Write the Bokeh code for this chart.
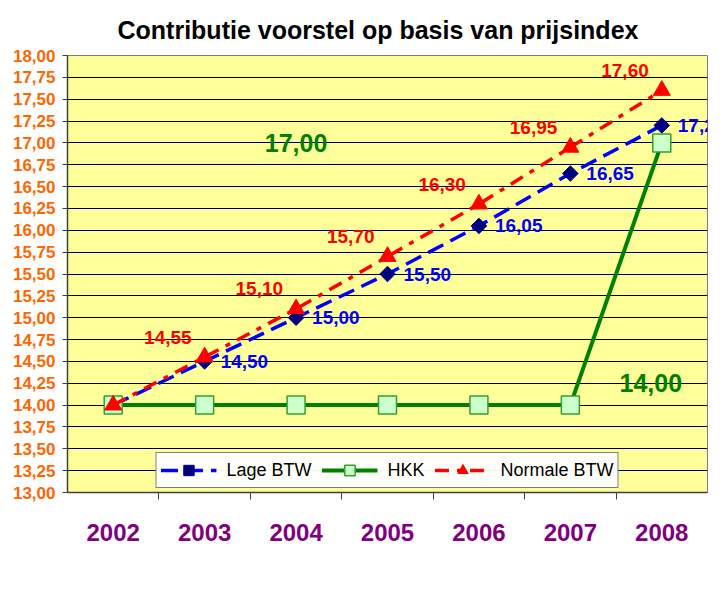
import math
from bokeh.plotting import figure
from bokeh.models import (FactorRange, Range1d, CategoricalAxis, FixedTicker,
                          CustomJSTickFormatter, ColumnDataSource, LabelSet, Legend, LegendItem)
from bokeh.core.properties import value
from bokeh.embed import file_html
from bokeh.resources import INLINE

# ---- data ----
years = ["2002", "2003", "2004", "2005", "2006", "2007", "2008"]
lage_btw = [14.00, 14.50, 15.00, 15.50, 16.05, 16.65, 17.20]
hkk = [14.00, 14.00, 14.00, 14.00, 14.00, 14.00, 17.00]
normale_btw = [14.00, 14.55, 15.10, 15.70, 16.30, 16.95, 17.60]
y_ticks = [13.00 + 0.25 * i for i in range(21)]
title_text = "Contributie voorstel op basis van prijsindex"
series_names = ["Lage BTW", "HKK", "Normale BTW"]


def fmt(v):
    return f"{v:.2f}".replace(".", ",")


FONT = "Liberation Sans"

src = ColumnDataSource(dict(year=years, lage=lage_btw, hkk=hkk, norm=normale_btw))

p = figure(frame_width=640, frame_height=437, x_range=FactorRange(*years), y_range=Range1d(13, 18),
           output_backend="svg", toolbar_location=None, x_axis_location=None,
           min_border_left=67, min_border_right=19, min_border_top=55, min_border_bottom=103,
           background_fill_color="#FFFF99", border_fill_color="white",
           outline_line_color="#808080", outline_line_width=1)

# title
p.title.text = title_text
p.title.text_font = FONT
p.title.text_font_size = "25px"
p.title.text_font_style = "bold"
p.title.text_color = "black"
p.title.align = "left"
p.title.offset = 50
p.title.standoff = 24

# y axis
ya = p.yaxis[0]
ya.ticker = FixedTicker(ticks=y_ticks)
ya.formatter = CustomJSTickFormatter(code="return tick.toFixed(2).replace('.', ',');")
ya.major_label_text_font = FONT
ya.major_label_text_font_size = "17px"
ya.major_label_text_font_style = "bold"
ya.major_label_text_color = "#FF6600"
ya.major_tick_out = 5
ya.major_tick_in = 0
ya.minor_tick_line_color = None
ya.major_label_standoff = 7
ya.axis_line_color = "#404040"
ya.axis_line_width = 1.5
ya.major_tick_line_color = "#404040"

p.xgrid.visible = False
p.ygrid.ticker = FixedTicker(ticks=y_ticks)
p.ygrid.grid_line_color = "black"
p.ygrid.grid_line_width = 1

# x axes: category-boundary ticks + category labels
boundaries = [f"b{i}" for i in range(len(years) + 1)]
p.extra_x_ranges = {"slots": FactorRange(factors=boundaries, range_padding=-0.5,
                                         range_padding_units="absolute")}
tick_axis = CategoricalAxis(x_range_name="slots",
                            major_label_text_font_size="1px", major_label_text_alpha=0,
                            major_label_standoff=0, major_tick_out=7, major_tick_in=0,
                            axis_line_color="#404040", axis_line_width=1.5,
                            major_tick_line_color="#404040")
p.add_layout(tick_axis, "below")
cat_axis = CategoricalAxis(axis_line_color=None, major_tick_line_color=None,
                           major_tick_out=0, major_tick_in=0, major_label_standoff=24,
                           major_label_text_font=FONT, major_label_text_font_size="24px",
                           major_label_text_font_style="bold", major_label_text_color="#800080")
p.add_layout(cat_axis, "below")

# series
l1 = p.line(x="year", y="lage", source=src, line_color="#0000FF", line_width=3.5, line_dash="17 8")
m1 = p.scatter(x="year", y="lage", source=src, marker="square", angle=math.pi / 4, size=11,
               fill_color="#000080", line_color="#000080")
l2 = p.line(x="year", y="hkk", source=src, line_color="#008000", line_width=4)
m2 = p.scatter(x="year", y="hkk", source=src, marker="square", size=18,
               fill_color="#CCFFCC", line_color="#33A033", line_width=1.5)
l3 = p.line(x="year", y="norm", source=src, line_color="#FF0000", line_width=3.5, line_dash="14 8 5 8")
m3 = p.scatter(x="year", y="norm", source=src, marker="triangle", size=17,
               fill_color="#FF0000", line_color="#FF0000")

# data labels
lab_lage = ColumnDataSource(dict(x=years[1:], y=lage_btw[1:], t=[fmt(v) for v in lage_btw[1:]]))
lab_norm = ColumnDataSource(dict(x=years[1:], y=normale_btw[1:], t=[fmt(v) for v in normale_btw[1:]]))
p.add_layout(LabelSet(x="x", y="y", text="t", source=lab_lage, x_offset=16, y_offset=0,
                      text_align="left", text_baseline="middle", text_font=value(FONT),
                      text_font_size=value("19px"), text_font_style="bold", text_color="#0000FF"))
p.add_layout(LabelSet(x="x", y="y", text="t", source=lab_norm, x_offset=-13, y_offset=20,
                      text_align="right", text_baseline="middle", text_font=value(FONT),
                      text_font_size=value("19px"), text_font_style="bold", text_color="#FF0000"))
lab_hkk_hi = ColumnDataSource(dict(x=[years[2]], y=[hkk[-1]], t=[fmt(hkk[-1])]))
lab_hkk_lo = ColumnDataSource(dict(x=[years[-1]], y=[hkk[0]], t=[fmt(hkk[0])]))
for s, xo, yo in ((lab_hkk_hi, 0, 0), (lab_hkk_lo, -11, 22)):
    p.add_layout(LabelSet(x="x", y="y", text="t", source=s, x_offset=xo, y_offset=yo,
                          text_align="center", text_baseline="middle", text_font=value(FONT),
                          text_font_size=value("25px"), text_font_style="bold", text_color="#008000"))

legend = Legend(items=[LegendItem(label=series_names[0], renderers=[l1, m1]),
                       LegendItem(label=series_names[1], renderers=[l2, m2]),
                       LegendItem(label=series_names[2], renderers=[l3, m3])],
                orientation="horizontal", location="bottom_center",
                label_text_font=FONT, label_text_font_size="18px", label_text_color="black",
                glyph_width=56, glyph_height=26, label_height=26, label_standoff=10,
                spacing=10, padding=4, margin=4,
                border_line_color="#000000", border_line_width=1,
                background_fill_color="white")
p.add_layout(legend, "center")

open("out.html", "w").write(file_html(p, INLINE))
